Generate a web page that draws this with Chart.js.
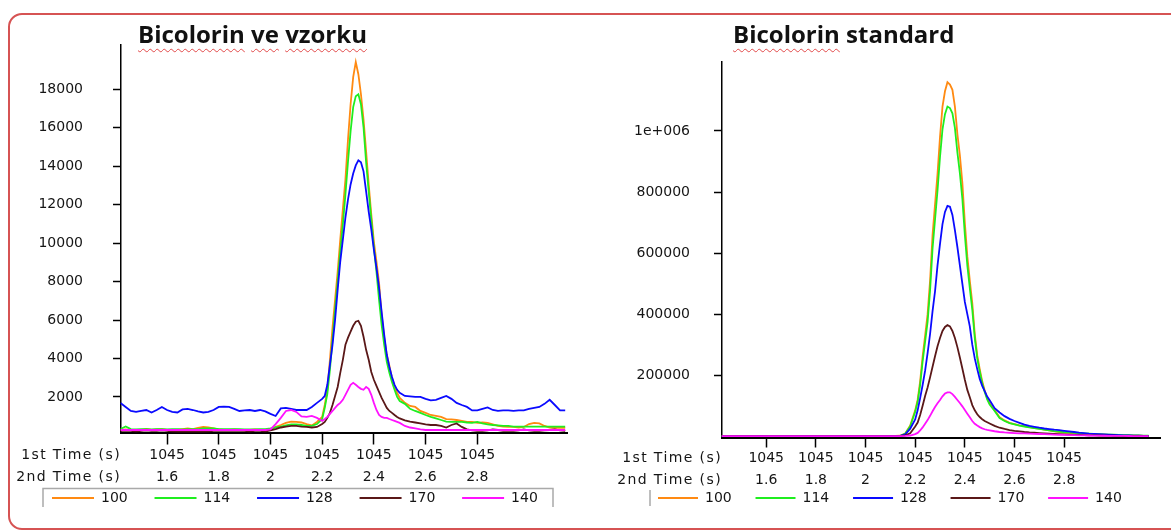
<!DOCTYPE html>
<html>
<head>
<meta charset="utf-8">
<script src="https://cdn.jsdelivr.net/npm/chart.js@4.4.1/dist/chart.umd.min.js"></script>
<style>
  html, body { margin: 0; padding: 0; background: #fff; }
  body { width: 1171px; height: 530px; position: relative; overflow: hidden; }
  #frame { position: absolute; left: 8px; top: 13px; width: 1300px; height: 513px;
           border: 2px solid #d65353; border-radius: 14px; box-sizing: content-box; }
  .title { position: absolute; top: 22px; font: bold 24px "Open Sans"; line-height: 24px;
           color: #111; white-space: pre; }
  .sq { text-decoration: underline wavy #e24a4a; text-decoration-thickness: 1px;
        text-underline-offset: 5px; }
  canvas { position: absolute; top: 0; }
</style>
</head>
<body>
<div id="frame"></div>
<canvas id="sample" width="585" height="530" style="left:0"></canvas>
<canvas id="standard" width="586" height="530" style="left:585px"></canvas>
<div class="title" style="left:138px"><span class="sq">Bicolorin</span> <span class="sq">ve</span> <span class="sq">vzorku</span></div>
<div class="title" style="left:733px"><span class="sq">Bicolorin</span> standard</div>

<script>
// second-dimension retention time of each acquired point (s); 1st dimension is 1045 s throughout
const SECOND_TIME = [
  1.42,1.44,1.46,1.48,1.50,1.52,1.54,1.56,1.58,1.60,
  1.62,1.64,1.66,1.68,1.70,1.72,1.74,1.76,1.78,1.80,
  1.82,1.84,1.86,1.88,1.90,1.92,1.94,1.96,1.98,2.00,
  2.02,2.04,2.06,2.08,2.10,2.12,2.14,2.16,2.18,2.20,
  2.21,2.22,2.23,2.24,2.25,2.26,2.27,2.28,2.29,2.30,
  2.31,2.32,2.33,2.34,2.35,2.36,2.37,2.38,2.39,2.40,
  2.41,2.42,2.43,2.44,2.45,2.46,2.47,2.48,2.49,2.50,
  2.52,2.54,2.56,2.58,2.60,2.62,2.64,2.66,2.68,2.70,
  2.72,2.74,2.76,2.78,2.80,2.82,2.84,2.86,2.88,2.90,
  2.92,2.94,2.96,2.98,3.00,3.02,3.04,3.06,3.08,3.10,
  3.12,3.14
];

const FIRST_TIME_LABEL = '1045';
const TICK_TIMES = [1.6, 1.8, 2.0, 2.2, 2.4, 2.6, 2.8];
const TICK_TIME_LABELS = ['1.6', '1.8', '2', '2.2', '2.4', '2.6', '2.8'];
const AXIS_CAPTIONS = ['1st Time (s)', '2nd Time (s)'];

const MASSES = ['100', '114', '128', '170', '140'];
const COLORS = ['#ff8a12', '#1fee1f', '#0a0aff', '#5a1818', '#ff12ff'];
const DRAW_ORDER = [5, 4, 3, 2, 1];   // m/z 140 ends up on top

// ---- sample extract (ion intensities) ----
const SAMPLE_100 = [
  280,310,280,260,280,330,280,310,330,280,
  260,280,330,360,330,390,440,410,360,310,
  280,280,310,280,260,280,310,280,260,330,
  440,540,650,720,700,670,590,520,700,960,
  1580,2370,3930,5600,7060,8520,10180,11750,13310,15390,
  17220,18630,19410,18780,17740,16440,14770,13050,11490,10080,
  9040,7940,6270,5080,4190,3620,2990,2570,2210,1950,
  1690,1530,1480,1270,1170,1060,1010,960,850,830,
  800,750,700,700,650,670,650,570,490,460,
  440,440,410,440,590,650,620,490,410,390,
  390,390
];
const SAMPLE_114 = [
  330,460,330,310,330,330,310,330,330,310,
  330,330,310,330,330,330,360,360,360,330,
  330,330,330,330,310,310,310,330,330,360,
  410,460,520,570,570,540,490,490,590,850,
  1430,2160,3410,4970,6540,8000,9560,10970,12530,14250,
  15820,17070,17640,17740,17220,16020,14200,12690,11230,9770,
  8520,7060,5750,4710,3830,3250,2780,2370,2000,1790,
  1640,1380,1270,1170,1060,960,880,800,720,700,
  700,700,670,650,700,620,570,540,520,490,
  490,460,460,460,460,460,460,460,460,460,
  460,460
];
const SAMPLE_128 = [
  1690,1480,1270,1220,1270,1320,1190,1320,1480,1320,
  1220,1190,1350,1380,1320,1250,1190,1220,1320,1480,
  1500,1480,1380,1270,1300,1320,1270,1320,1250,1120,
  1010,1400,1430,1380,1320,1320,1320,1480,1690,1900,
  2050,2630,3670,4710,6010,7580,9040,10180,11330,12270,
  13050,13620,14040,14300,14200,13730,12690,11640,10710,9660,
  8720,7680,6430,5230,4190,3560,3040,2630,2370,2210,
  2050,2030,2000,2000,1900,1820,1850,1950,2050,1900,
  1690,1580,1480,1300,1300,1380,1450,1320,1270,1300,
  1300,1270,1300,1300,1380,1430,1480,1640,1850,1580,
  1300,1300
];
const SAMPLE_170 = [
  230,230,230,200,230,260,230,230,260,230,
  200,180,180,200,180,200,180,200,230,230,
  230,230,230,230,230,200,230,230,200,260,
  330,410,460,490,490,460,440,410,440,590,
  700,910,1170,1580,2050,2520,3250,3930,4710,5080,
  5390,5700,5910,5960,5700,5130,4450,3930,3300,2890,
  2570,2260,1950,1690,1430,1270,1170,1060,960,880,
  780,720,670,620,570,540,540,490,410,540,
  620,440,310,260,230,230,260,310,280,230,
  230,230,260,310,260,230,230,260,280,310,
  260,230
];
const SAMPLE_140 = [
  280,280,280,280,280,280,280,280,280,280,
  280,280,280,280,280,280,280,280,280,280,
  280,280,280,280,280,280,280,280,280,310,
  590,910,1270,1320,1220,990,960,1010,910,750,
  850,960,1120,1270,1430,1580,1690,1850,2110,2370,
  2630,2730,2630,2520,2420,2370,2520,2420,2110,1690,
  1320,1060,960,910,910,850,800,750,700,650,
  490,410,360,310,280,280,280,280,280,280,
  280,280,280,280,280,280,280,280,280,280,
  280,280,280,280,280,280,280,280,280,280,
  280,280
];

// ---- reference standard (ion intensities) ----
const STANDARD_100 = [
  1200,1000,1100,900,1000,1200,1100,1000,900,1100,
  1000,1200,1000,900,1100,1000,1000,1200,1100,900,
  1000,1100,1000,1200,1000,900,1100,1000,1100,1000,
  1200,1000,900,1100,1000,1300,1800,9000,35000,85000,
  120000,180000,262000,330000,400000,510000,660000,760000,860000,980000,
  1080000,1130000,1160000,1152000,1135000,1080000,990000,920000,830000,700000,
  590000,510000,436000,335000,265000,220000,180000,150000,125000,108000,
  86000,62000,52000,44000,40000,36000,33000,30000,27000,25000,
  22000,19000,16000,13500,12000,11000,10000,9000,8000,7000,
  6000,5500,5000,4500,4000,3500,3000,2600,2200,1800,
  1500,1200
];
const STANDARD_114 = [
  900,1000,900,800,900,1000,900,900,800,1000,
  900,1000,900,800,900,900,1000,900,900,800,
  900,1000,900,1000,900,800,900,900,1000,900,
  1000,900,800,900,900,1100,1500,8500,33000,80000,
  113000,168000,245000,310000,375000,478000,615000,710000,805000,915000,
  1005000,1055000,1080000,1075000,1058000,1010000,930000,862000,778000,660000,
  560000,485000,415000,322000,255000,212000,174000,145000,121000,104000,
  83000,60000,50000,43000,39000,35000,32000,29000,26500,24500,
  22000,19500,17000,15000,13500,12500,11500,10500,9500,8500,
  7500,6800,6000,5500,5000,4500,4000,3500,3000,2600,
  2200,1800
];
const STANDARD_128 = [
  800,700,800,900,800,700,800,800,900,800,
  700,800,800,900,800,700,800,900,800,800,
  800,700,800,800,900,800,700,800,800,900,
  800,800,700,800,900,800,1500,6000,25000,55000,
  85000,125000,168000,215000,272000,335000,410000,475000,560000,630000,
  695000,735000,755000,752000,725000,675000,620000,560000,500000,440000,
  400000,360000,300000,255000,220000,188000,165000,148000,130000,118000,
  92000,78000,66000,57000,50000,44000,38000,34000,31000,28000,
  25500,23500,21500,20000,18000,16000,14000,12000,10500,9000,
  8000,7000,6000,5200,4500,3800,3200,2700,2200,1800,
  1500,1200
];
const STANDARD_170 = [
  600,500,600,700,600,500,600,600,700,600,
  500,600,600,700,600,500,600,700,600,600,
  600,500,600,600,700,600,500,600,600,700,
  600,600,500,600,700,600,1000,3000,10000,32000,
  45000,70000,100000,132000,160000,193000,228000,262000,295000,322000,
  345000,358000,364000,360000,345000,322000,292000,258000,222000,185000,
  152000,128000,102000,85000,72000,63000,56000,50000,46000,42000,
  34000,28000,24000,20500,18000,16000,14000,12500,11500,10500,
  9500,8500,7500,6800,6000,5400,4800,4200,3700,3200,
  2800,2500,2200,1900,1700,1500,1300,1100,1000,900,
  800,700
];
const STANDARD_140 = [
  400,300,400,500,400,300,400,400,500,400,
  300,400,400,500,400,300,400,500,400,400,
  400,300,400,400,500,400,300,400,400,500,
  400,400,300,400,500,400,600,1200,2500,7000,
  11000,19000,29000,41000,53000,67000,82000,96000,108000,119000,
  131000,140000,144000,144000,138000,129000,119000,109000,98000,86000,
  74000,62000,50000,41000,35000,30000,26000,23000,21000,19500,
  16500,14000,12500,11500,10500,9800,9200,8600,8000,7400,
  6800,6200,5600,5000,4500,4000,3600,3200,2800,2500,
  2200,2000,1800,1600,1400,1200,1000,900,800,700,
  600,500
];

const SAMPLE_Y_TICKS = [2000, 4000, 6000, 8000, 10000, 12000, 14000, 16000, 18000];
const SAMPLE_Y_LABELS = ['2000', '4000', '6000', '8000', '10000', '12000', '14000', '16000', '18000'];
const STANDARD_Y_TICKS = [200000, 400000, 600000, 800000, 1000000];
const STANDARD_Y_LABELS = ['200000', '400000', '600000', '800000', '1e+006'];

const FONT = { family: '"DejaVu Sans"', size: 14 };
const TEXT = '#151515';

// captions left of the x tick rows plus the thin grey legend frame
const axisCaptions = {
  id: 'axisCaptions',
  afterLayout(chart) {
    // the two-line tick labels reach down into the legend band; keep them unclipped
    const xs = chart.scales.x;
    xs.bottom = xs.top + 64;
  },
  afterDraw(chart, args, opts) {
    const { ctx, chartArea } = chart;
    const xs = chart.scales.x;
    ctx.save();
    ctx.font = '14px "DejaVu Sans"';
    ctx.letterSpacing = '1.4px';
    ctx.fillStyle = TEXT;
    ctx.textAlign = 'right';
    ctx.textBaseline = 'middle';
    const y0 = xs.top + opts.tickLength + 11;
    AXIS_CAPTIONS.forEach((c, i) => ctx.fillText(c, chartArea.left + 0.5, y0 + i * 22));
    ctx.letterSpacing = '0px';
    ctx.strokeStyle = '#a9a9a9';
    ctx.lineWidth = 1.5;
    ctx.beginPath();
    opts.frame.forEach(([x, y], i) => (i ? ctx.lineTo(x, y) : ctx.moveTo(x, y)));
    ctx.stroke();
    ctx.restore();
  }
};

function makeChart(canvasId, series, cfg) {
  const datasets = series.map((vals, i) => ({
    label: MASSES[i],
    data: SECOND_TIME.map((t, j) => ({ x: t, y: vals[j] })),
    borderColor: COLORS[i],
    backgroundColor: COLORS[i],
    borderWidth: 1.8,
    pointRadius: 0,
    tension: 0,
    order: DRAW_ORDER[i]
  }));

  return new Chart(document.getElementById(canvasId), {
    type: 'line',
    data: { datasets },
    plugins: [axisCaptions],
    options: {
      responsive: false,
      animation: false,
      events: [],
      layout: { padding: { left: cfg.padLeft, right: 0, top: cfg.top, bottom: 15 } },
      plugins: {
        tooltip: { enabled: false },
        legend: {
          position: 'bottom',
          align: 'start',
          labels: {
            boxWidth: cfg.boxWidth,
            boxHeight: 2,
            padding: cfg.legendGap,
            color: TEXT,
            font: FONT,
            sort: (a, b) => a.datasetIndex - b.datasetIndex,
            generateLabels: chart =>
              Chart.defaults.plugins.legend.labels.generateLabels(chart)
                .map(l => Object.assign(l, { lineWidth: 0 }))
          }
        },
        axisCaptions: { tickLength: cfg.xTick, frame: cfg.frame }
      },
      scales: {
        x: {
          type: 'linear',
          min: 1.42,
          max: cfg.xMax,
          afterBuildTicks: s => { s.ticks = TICK_TIMES.map(v => ({ value: v })); },
          afterFit: s => { s.height = cfg.xHeight; },
          ticks: {
            autoSkip: false, maxRotation: 0, padding: 0, color: TEXT,
            font: { family: FONT.family, size: 14, lineHeight: '22px' },
            callback: (v, i) => [FIRST_TIME_LABEL, TICK_TIME_LABELS[i]]
          },
          grid: { drawOnChartArea: false, tickLength: cfg.xTick, tickColor: '#000', tickWidth: 1.5 },
          border: { color: '#000', width: 2 }
        },
        y: {
          type: 'linear',
          min: cfg.yMin,
          max: cfg.yMax,
          afterBuildTicks: s => { s.ticks = cfg.yTicks.map(v => ({ value: v })); },
          afterFit: s => { s.width = cfg.yWidth; },
          ticks: {
            padding: cfg.yPad, color: TEXT, font: FONT,
            callback: (v, i) => cfg.yLabels[i]
          },
          grid: { drawOnChartArea: false, tickLength: 7.5, tickColor: '#000', tickWidth: 1.5 },
          border: { color: '#000', width: 1.5 }
        },
        gutter: {
          type: 'linear',
          position: 'right',
          display: true,
          grid: { display: false },
          border: { display: false },
          ticks: { display: false },
          afterFit: s => { s.width = cfg.gutter; }
        }
      }
    }
  });
}

makeChart('sample',
  [SAMPLE_100, SAMPLE_114, SAMPLE_128, SAMPLE_170, SAMPLE_140],
  {
    padLeft: 25.2, top: 45, yWidth: 95.3, yPad: 30, gutter: 18,
    yMin: 150, yMax: 20300, yTicks: SAMPLE_Y_TICKS, yLabels: SAMPLE_Y_LABELS,
    xMax: 3.147, xTick: 12, xHeight: 31.7,
    boxWidth: 42, legendGap: 26.8,
    frame: [[43, 507], [43, 488.5], [553, 488.5], [553, 507]]
  });

makeChart('standard',
  [STANDARD_100, STANDARD_114, STANDARD_128, STANDARD_170, STANDARD_140],
  {
    padLeft: 49.2, top: 62, yWidth: 87.3, yPad: 24, gutter: 11,
    yMin: -4000, yMax: 1226000, yTicks: STANDARD_Y_TICKS, yLabels: STANDARD_Y_LABELS,
    xMax: 3.186, xTick: 10, xHeight: 29.7,
    boxWidth: 40, legendGap: 23.8,
    frame: [[65, 490], [65, 506]]
  });
</script>
</body>
</html>
